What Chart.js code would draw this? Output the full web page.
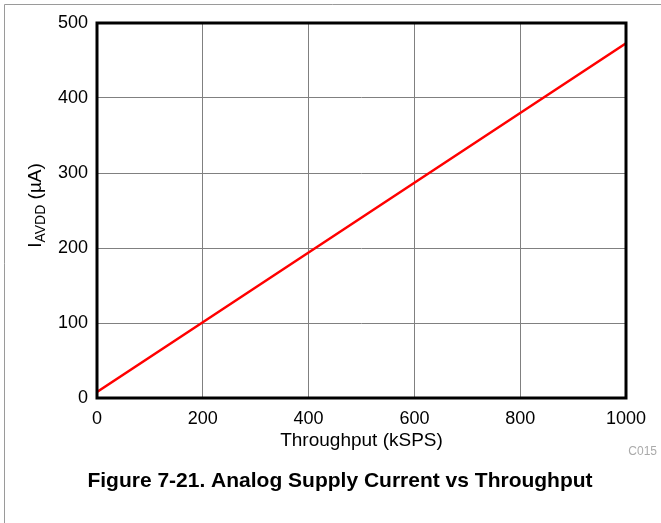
<!DOCTYPE html>
<html>
<head>
<meta charset="utf-8">
<script src="https://cdn.jsdelivr.net/npm/chart.js@4"></script>
<style>
  html, body { margin: 0; padding: 0; background: #fff; }
  #wrap { width: 661px; height: 523px; position: relative; }
</style>
</head>
<body>
<div id="wrap"><canvas id="c"></canvas></div>
<script>
// Throughput (kSPS) vs analog supply current (uA)
const throughput = [0, 200, 400, 600, 800, 1000];
const currentUA = [8, 101, 194, 287, 380, 473];
const xTicks = [0, 200, 400, 600, 800, 1000];
const yTicks = [0, 100, 200, 300, 400, 500];

const figureTitle = 'Figure 7-21. Analog Supply Current vs Throughput';
const xTitle = 'Throughput (kSPS)';
const codeLabel = 'C015';

const FONT = '"Liberation Sans", Arial, sans-serif';

// frame, plot box, axis titles (y one has a subscript), caption
const decor = {
  id: 'decor',
  beforeDraw(chart) {
    const c = chart.ctx;
    c.save();
    c.strokeStyle = '#9a9a9a';
    c.lineWidth = 1;
    c.beginPath();
    c.moveTo(4.5, 523);
    c.lineTo(4.5, 4.5);
    c.lineTo(661, 4.5);
    c.stroke();
    c.restore();
  },
  afterDraw(chart) {
    const c = chart.ctx;
    const a = chart.chartArea;
    c.save();
    c.strokeStyle = '#000';
    c.lineWidth = 3;
    c.strokeRect(a.left, a.top, a.right - a.left, a.bottom - a.top);

    // y axis title: I_AVDD (µA)
    const cy = (a.top + a.bottom) / 2 - 5;
    c.translate(41, cy);
    c.rotate(-Math.PI / 2);
    c.fillStyle = '#000';
    c.textBaseline = 'alphabetic';
    c.font = '19px ' + FONT;
    const wI = c.measureText('I').width;
    c.font = '14px ' + FONT;
    const wSub = c.measureText('AVDD').width;
    c.font = '19px ' + FONT;
    const wRest = c.measureText(' (µA)').width;
    let x = -(wI + wSub + wRest) / 2;
    c.fillText('I', x, 0);
    x += wI;
    c.font = '14px ' + FONT;
    c.fillText('AVDD', x, 4);
    x += wSub;
    c.font = '19px ' + FONT;
    c.fillText(' (µA)', x, 0);
    c.restore();

    c.save();
    c.fillStyle = '#000';
    c.font = '19px ' + FONT;
    c.textAlign = 'center';
    c.textBaseline = 'alphabetic';
    c.fillText(xTitle, (a.left + a.right) / 2, 446);

    c.fillStyle = '#aaaaaa';
    c.font = '12px ' + FONT;
    c.textAlign = 'right';
    c.textBaseline = 'middle';
    c.fillText(codeLabel, 657, 452);

    c.fillStyle = '#000';
    c.font = 'bold 21px ' + FONT;
    c.textAlign = 'center';
    c.textBaseline = 'alphabetic';
    c.fillText(figureTitle, 340, 487);
    c.restore();
  }
};

new Chart(document.getElementById('c'), {
  type: 'line',
  data: {
    datasets: [{
      data: throughput.map((t, i) => ({ x: t, y: currentUA[i] })),
      borderColor: '#ff0000',
      borderWidth: 2.5,
      pointRadius: 0,
      tension: 0,
      fill: false
    }]
  },
  options: {
    responsive: true,
    maintainAspectRatio: false,
    animation: false,
    layout: { padding: { left: 0, top: 23, right: 35, bottom: 0 } },
    plugins: { legend: { display: false }, tooltip: { enabled: false } },
    scales: {
      x: {
        type: 'linear',
        min: 0,
        max: 1000,
        afterBuildTicks: s => { s.ticks = xTicks.map(v => ({ value: v })); },
        afterFit: s => { s.height = 125; },
        grid: { color: '#808080', lineWidth: 1, drawTicks: false },
        border: { display: false },
        ticks: {
          color: '#000',
          font: { family: FONT, size: 18 },
          padding: 10,
          maxRotation: 0,
          callback: v => String(v)
        }
      },
      y: {
        type: 'linear',
        min: 0,
        max: 500,
        afterBuildTicks: s => { s.ticks = yTicks.map(v => ({ value: v })); },
        afterFit: s => { s.width = 97; },
        grid: { color: '#808080', lineWidth: 1, drawTicks: false },
        border: { display: false },
        ticks: { color: '#000', font: { family: FONT, size: 18 }, padding: 9 }
      }
    }
  },
  plugins: [decor]
});
</script>
</body>
</html>
